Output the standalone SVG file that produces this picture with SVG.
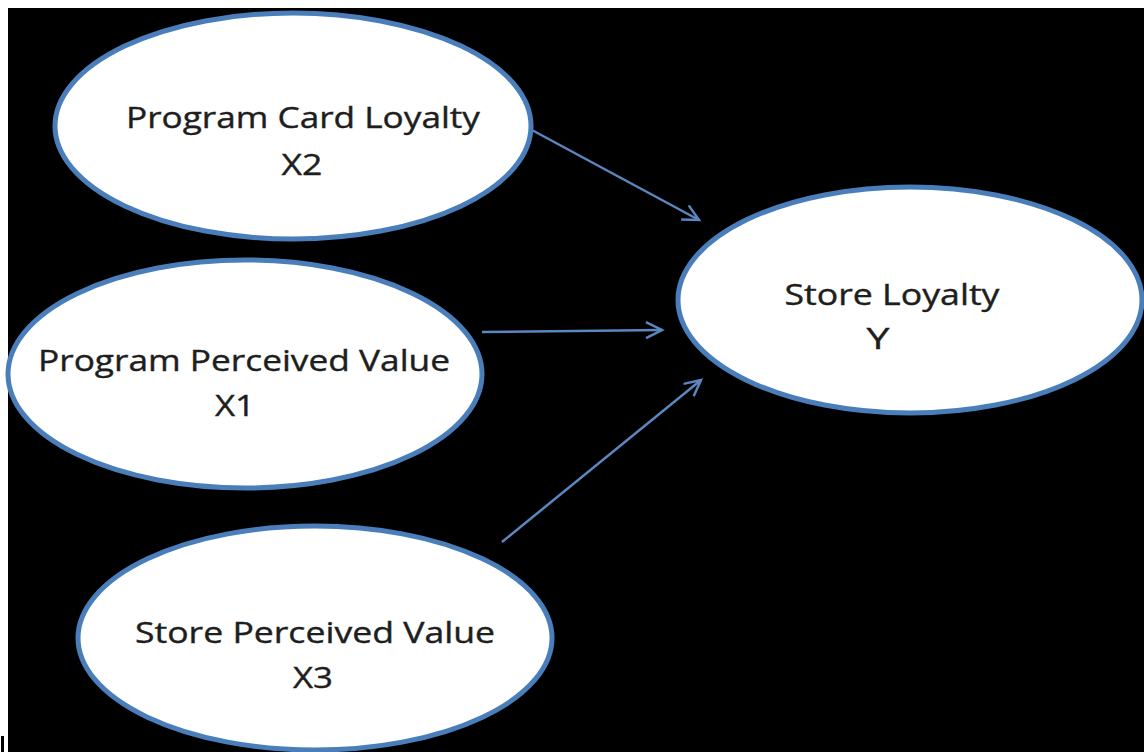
<svg xmlns="http://www.w3.org/2000/svg" width="1144" height="752" viewBox="0 0 1144 752">
<style>
.node ellipse{fill:#ffffff;stroke:#4a7ebb;stroke-width:5}
.node text{font-family:"Open Sans","Liberation Sans",sans-serif;font-size:30px;fill:#1e1e1e;text-anchor:middle;stroke:#1e1e1e;stroke-width:0.4}
.edge{stroke:#5b86c0;stroke-width:2.5;fill:none}
</style>
<defs>
<marker id="ah" markerUnits="userSpaceOnUse" markerWidth="24" markerHeight="24" refX="19" refY="9" orient="auto">
<path d="M3,1 L19,9 L3,17" fill="none" stroke="#5b86c0" stroke-width="2.5"/>
</marker>
</defs>
<rect x="0" y="0" width="1144" height="752" fill="#ffffff"/>
<rect x="8" y="8" width="1136" height="744" fill="#000000"/>
<rect x="1" y="736" width="3" height="16" fill="#000000"/>
<g id="connectors">
<line class="edge" x1="530" y1="129" x2="699" y2="220" marker-end="url(#ah)"/>
<line class="edge" x1="482" y1="332" x2="662" y2="330" marker-end="url(#ah)"/>
<line class="edge" x1="502" y1="542" x2="701" y2="380" marker-end="url(#ah)"/>
</g>
<g id="n-x2" class="node">
<ellipse cx="293" cy="126" rx="238" ry="113"/>
<text x="303" y="128" textLength="354" lengthAdjust="spacingAndGlyphs">Program Card Loyalty</text>
<text x="302" y="175" textLength="41" lengthAdjust="spacingAndGlyphs">X2</text>
</g>
<g id="n-x1" class="node">
<ellipse cx="245" cy="374" rx="237" ry="114"/>
<text x="244" y="371" textLength="412" lengthAdjust="spacingAndGlyphs">Program Perceived Value</text>
<text x="235" y="416" textLength="40" lengthAdjust="spacingAndGlyphs">X1</text>
</g>
<g id="n-x3" class="node">
<ellipse cx="315" cy="638" rx="237" ry="112"/>
<text x="315" y="643" textLength="360" lengthAdjust="spacingAndGlyphs">Store Perceived Value</text>
<text x="313" y="688" textLength="40" lengthAdjust="spacingAndGlyphs">X3</text>
</g>
<g id="n-y" class="node">
<ellipse cx="910" cy="300" rx="232" ry="113"/>
<text x="892" y="305" textLength="215" lengthAdjust="spacingAndGlyphs">Store Loyalty</text>
<text x="878" y="349" textLength="23" lengthAdjust="spacingAndGlyphs">Y</text>
</g>
</svg>
